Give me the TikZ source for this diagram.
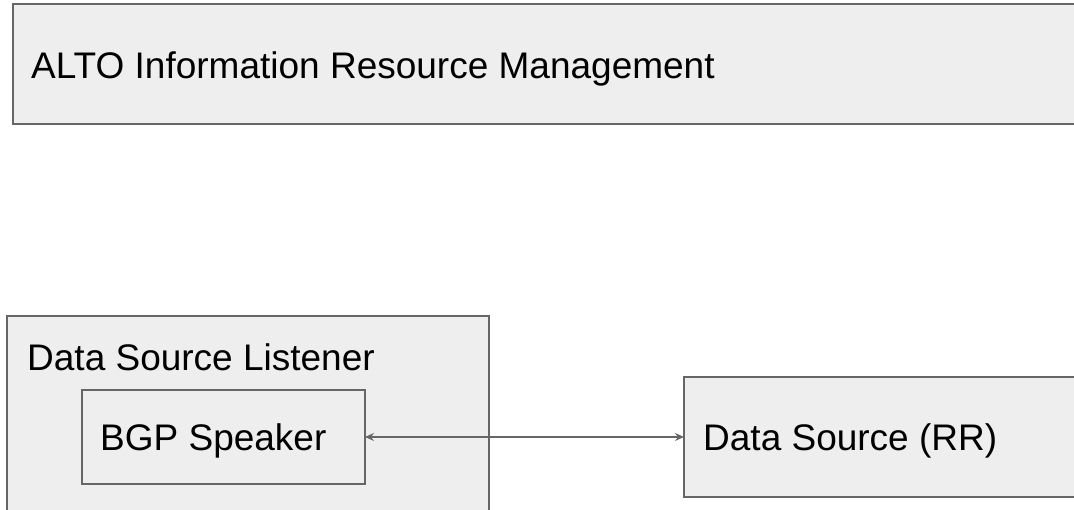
\documentclass[tikz,border=0pt]{standalone}
\usepackage{fontspec}
\setmainfont{Liberation Sans}
\usetikzlibrary{arrows.meta}
\definecolor{boxfill}{HTML}{EEEEEE}
\definecolor{boxline}{HTML}{666666}
\tikzset{
  box/.style={draw=boxline, fill=boxfill, line width=1.4pt, inner sep=0pt, outer sep=0pt, rectangle},
  lbl/.style={anchor=base west, inner sep=0pt, font=\fontsize{37}{44}\selectfont, text=black},
  conn/.style={draw=boxline, line width=1.3pt, {Stealth[length=9pt,width=8pt,inset=3pt]}-{Stealth[length=9pt,width=8pt,inset=3pt]}}
}
\begin{document}
\begin{tikzpicture}[x=1pt,y=1pt]
\useasboundingbox (0,0) rectangle (1074,510);
\clip (0,0) rectangle (1074,510);
\node[box, minimum width=1077pt, minimum height=120pt] (alto) at (551.5,446) {};
\node[box, minimum width=482pt, minimum height=214pt] (dsl) at (248,87) {};
\node[box, minimum width=283pt, minimum height=94pt] (bgp) at (223.5,73) {};
\node[box, minimum width=406pt, minimum height=120pt] (ds) at (887,73) {};
\node[lbl] (altot) at (31,431) {ALTO Information Resource Management};
\node[lbl] (dslt) at (27,139) {Data Source Listener};
\node[lbl] (bgpt) at (100,59) {BGP Speaker};
\node[lbl] (dst) at (703,59) {Data Source (RR)};
\draw[conn] (bgp.east) -- (ds.west);
\end{tikzpicture}
\end{document}
